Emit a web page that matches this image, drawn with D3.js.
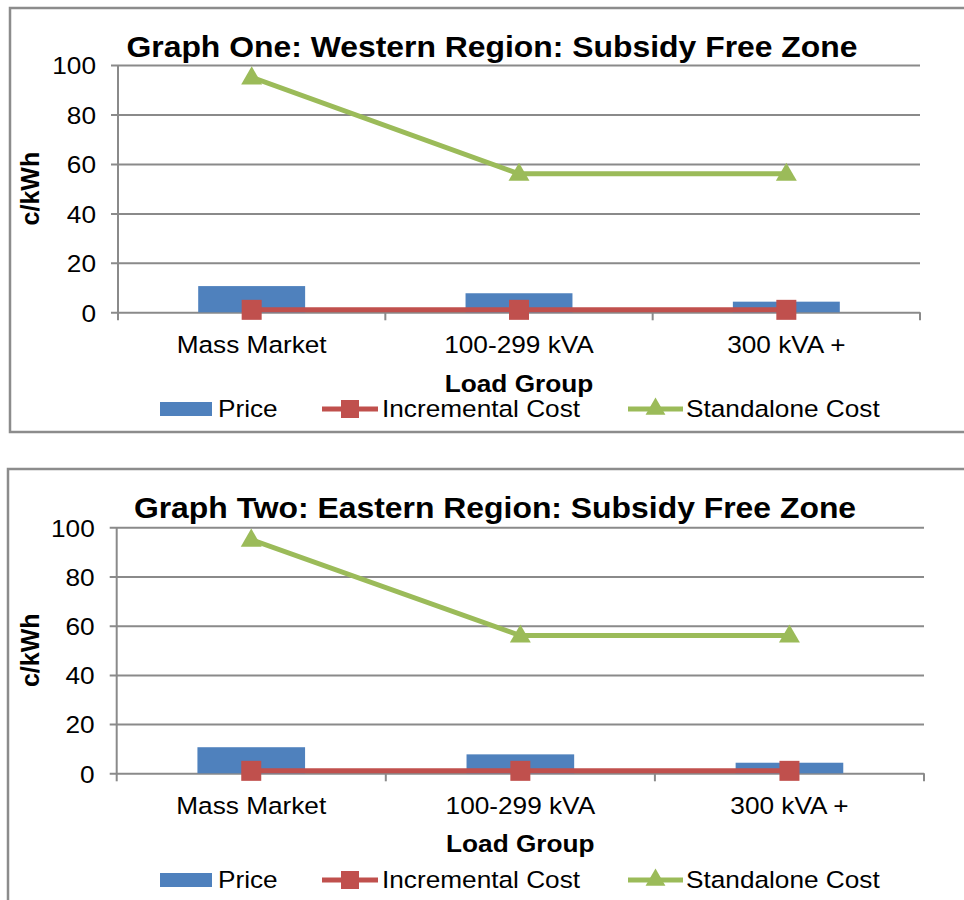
<!DOCTYPE html>
<html>
<head>
<meta charset="utf-8">
<script src="https://cdn.jsdelivr.net/npm/d3@7"></script>
<style>
  html, body { margin: 0; padding: 0; background: #fff; }
  svg { display: block; }
  text { font-family: "Liberation Sans", Arial, sans-serif; fill: #000; }
</style>
</head>
<body>
<script>
// Load groups along the x axis
const categories = ["Mass Market", "100-299 kVA", "300 kVA +"];
const yTicks = [0, 20, 40, 60, 80, 100];

// Western region, c/kWh
const westPrice = [10.6, 7.7, 4.3];
const westIncremental = [1, 1, 1];
const westStandalone = [95, 56, 56];

// Eastern region, c/kWh
const eastPrice = [10.6, 7.7, 4.3];
const eastIncremental = [1, 1, 1];
const eastStandalone = [95, 56, 56];

const seriesNames = ["Price", "Incremental Cost", "Standalone Cost"];
const titles = [
  "Graph One: Western Region: Subsidy Free Zone",
  "Graph Two: Eastern Region: Subsidy Free Zone"
];

const COLORS = { price: "#4F81BD", incr: "#C0504D", stand: "#9BBB59", grid: "#8a8a8a", frame: "#8c8c8c" };
const STRETCH = 1.07; // glyphs are drawn slightly wide

const svg = d3.select("body").append("svg")
  .attr("width", 964).attr("height", 900);

// Layout of each chart panel
const panels = [
  { box: [10, 8, 980, 424], plot: { left: 118, right: 920, top: 65, bottom: 312.3 },
    titleX: 492, titleY: 57, catY: 353, axisTitleY: 392, legendY: 409, yLabelX: 30 },
  { box: [8, 469, 980, 460], plot: { left: 116.7, right: 924, top: 527.3, bottom: 773.3 },
    titleX: 495, titleY: 518, catY: 814, axisTitleY: 852, legendY: 880, yLabelX: 30 }
];

function stretchText(sel) {
  sel.each(function () {
    const t = d3.select(this);
    const x = +t.attr("x") || 0;
    t.attr("transform", `translate(${x},0) scale(${STRETCH},1) translate(${-x},0)`);
  });
}

function drawPanel(p, title, price, incr, stand) {
  const g = svg.append("g");
  const [bx, by, bw, bh] = p.box;
  g.append("rect").attr("x", bx).attr("y", by).attr("width", bw).attr("height", bh)
    .attr("fill", "#fff").attr("stroke", COLORS.frame).attr("stroke-width", 2.5);

  const x = d3.scaleBand().domain(categories).range([p.plot.left, p.plot.right]).padding(0);
  const y = d3.scaleLinear().domain([0, 100]).range([p.plot.bottom, p.plot.top]);
  const w = p.plot.right - p.plot.left;

  // y axis with gridlines
  const yAxis = g.append("g").attr("transform", `translate(${p.plot.left},0)`)
    .call(d3.axisLeft(y).tickValues(yTicks).tickSize(-w).tickSizeOuter(0).tickPadding(22));
  yAxis.select(".domain").remove();
  yAxis.selectAll(".tick line").attr("x1", -7).attr("x2", w)
    .attr("stroke", COLORS.grid).attr("stroke-width", 2);
  yAxis.selectAll(".tick text").attr("font-size", 24.5).attr("fill", "#000")
    .attr("font-family", "Liberation Sans, Arial, sans-serif").attr("dy", "0.36em")
    .call(stretchText);
  // vertical axis line
  g.append("line").attr("x1", p.plot.left).attr("x2", p.plot.left)
    .attr("y1", p.plot.top).attr("y2", p.plot.bottom + 8)
    .attr("stroke", COLORS.grid).attr("stroke-width", 2);

  // category boundary ticks
  const bounds = categories.map(c => x(c)).concat([x(categories[categories.length - 1]) + x.bandwidth()]);
  g.selectAll(".btick").data(bounds.slice(1)).join("line")
    .attr("x1", d => d).attr("x2", d => d)
    .attr("y1", p.plot.bottom).attr("y2", p.plot.bottom + 8)
    .attr("stroke", COLORS.grid).attr("stroke-width", 2);

  // bars
  g.selectAll(".bar").data(price).join("rect")
    .attr("x", (d, i) => x(categories[i]) + x.bandwidth() * 0.3)
    .attr("width", x.bandwidth() * 0.4)
    .attr("y", d => y(d)).attr("height", d => y(0) - y(d))
    .attr("fill", COLORS.price);

  const cx = i => x(categories[i]) + x.bandwidth() / 2;
  const line = d3.line().x((d, i) => cx(i)).y(d => y(d));

  // incremental cost
  g.append("path").datum(incr).attr("d", line).attr("fill", "none")
    .attr("stroke", COLORS.incr).attr("stroke-width", 5);
  g.selectAll(".sq").data(incr).join("rect")
    .attr("x", (d, i) => cx(i) - 10).attr("y", d => y(d) - 10)
    .attr("width", 20).attr("height", 20).attr("fill", COLORS.incr);

  // standalone cost
  g.append("path").datum(stand).attr("d", line).attr("fill", "none")
    .attr("stroke", COLORS.stand).attr("stroke-width", 5).attr("stroke-linejoin", "round");
  const tri = d3.symbol().type(d3.symbolTriangle).size(190);
  g.selectAll(".tri").data(stand).join("path")
    .attr("d", tri).attr("transform", (d, i) => `translate(${cx(i)},${y(d) + 1})`)
    .attr("fill", COLORS.stand);

  // category labels
  g.selectAll(".cat").data(categories).join("text")
    .attr("x", d => x(d) + x.bandwidth() / 2).attr("y", p.catY)
    .attr("text-anchor", "middle").attr("font-size", 24.5).text(d => d)
    .call(stretchText);

  // axis titles
  g.append("text").attr("x", (p.plot.left + p.plot.right) / 2).attr("y", p.axisTitleY)
    .attr("text-anchor", "middle").attr("font-size", 24.5).attr("font-weight", "bold")
    .text("Load Group").call(stretchText);
  g.append("text")
    .attr("transform", `translate(${p.yLabelX + 9},${(p.plot.top + p.plot.bottom) / 2}) rotate(-90)`)
    .attr("text-anchor", "middle").attr("font-size", 25).attr("font-weight", "bold")
    .text("c/kWh");

  // chart title
  g.append("text").attr("x", p.titleX).attr("y", p.titleY)
    .attr("text-anchor", "middle").attr("font-size", 29.8).attr("font-weight", "bold")
    .text(title).call(stretchText);

  // legend
  const ly = p.legendY;
  g.append("rect").attr("x", 160).attr("y", ly - 7).attr("width", 52).attr("height", 14)
    .attr("fill", COLORS.price);
  g.append("line").attr("x1", 322).attr("x2", 378).attr("y1", ly).attr("y2", ly)
    .attr("stroke", COLORS.incr).attr("stroke-width", 5);
  g.append("rect").attr("x", 341).attr("y", ly - 9).attr("width", 18).attr("height", 18)
    .attr("fill", COLORS.incr);
  g.append("line").attr("x1", 628).attr("x2", 683).attr("y1", ly).attr("y2", ly)
    .attr("stroke", COLORS.stand).attr("stroke-width", 5);
  g.append("path").attr("d", d3.symbol().type(d3.symbolTriangle).size(170))
    .attr("transform", `translate(655.5,${ly})`).attr("fill", COLORS.stand);
  const legendX = [218, 382, 686];
  g.selectAll(".lt").data(seriesNames).join("text")
    .attr("x", (d, i) => legendX[i]).attr("y", ly + 8)
    .attr("font-size", 24.5).text(d => d).call(stretchText);
}

drawPanel(panels[0], titles[0], westPrice, westIncremental, westStandalone);
drawPanel(panels[1], titles[1], eastPrice, eastIncremental, eastStandalone);
</script>
</body>
</html>
